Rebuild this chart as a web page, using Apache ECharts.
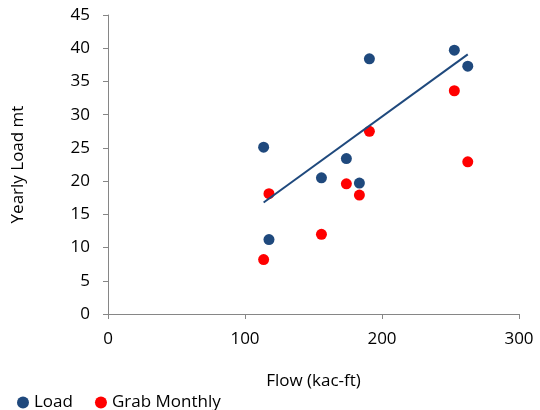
<!DOCTYPE html>
<html>
<head>
<meta charset="utf-8">
<script src="https://cdn.jsdelivr.net/npm/echarts@6/dist/echarts.min.js"></script>
<style>
  html, body { margin: 0; padding: 0; background: #fff; }
  #chart { width: 540px; height: 410px; }
</style>
</head>
<body>
<div id="chart"></div>
<script>
// flow (kac-ft) for each year
const flow = [113.6, 117.5, 155.8, 174.0, 183.5, 190.8, 252.8, 262.6]
// yearly load (mt)
const loadValues = [25.1, 11.2, 20.5, 23.4, 19.7, 38.4, 39.7, 37.3]
const grabMonthlyValues = [8.2, 18.1, 12.0, 19.6, 17.9, 27.5, 33.6, 22.9]

const xTicks = [0, 100, 200, 300]
const yTicks = [0, 5, 10, 15, 20, 25, 30, 35, 40, 45]

const blue = '#1F497D'
const red = '#FF0000'
const axisColor = '#868686'
const font = '"Open Sans", sans-serif'

// linear trend for Load
const trendLine = (xs, ys) => {
  const n = xs.length
  const mx = xs.reduce((a, b) => a + b, 0) / n
  const my = ys.reduce((a, b) => a + b, 0) / n
  let sxy = 0
  let sxx = 0
  xs.forEach((x, i) => {
    sxy += (x - mx) * (ys[i] - my)
    sxx += (x - mx) * (x - mx)
  })
  const slope = sxy / sxx
  const x0 = Math.min(...xs)
  const x1 = Math.max(...xs)
  return [
    [x0, my + slope * (x0 - mx)],
    [x1, my + slope * (x1 - mx)]
  ]
}

const pairs = (xs, ys) => xs.map((x, i) => [x, ys[i]])

const chart = echarts.init(document.getElementById('chart'))

chart.setOption({
  animation: false,
  textStyle: { fontFamily: font },
  grid: { left: 108, right: 21, top: 15, bottom: 96 },
  legend: {
    left: 12,
    top: 389,
    itemWidth: 12,
    itemHeight: 12,
    itemGap: 22,
    textStyle: { fontSize: 17, color: '#000', fontFamily: font },
    data: [
      { name: 'Load', icon: 'circle' },
      { name: 'Grab Monthly', icon: 'circle' }
    ]
  },
  xAxis: {
    type: 'value',
    min: xTicks[0],
    max: xTicks[xTicks.length - 1],
    interval: 100,
    name: 'Flow (kac-ft)',
    nameLocation: 'middle',
    nameGap: 59,
    nameTextStyle: { fontSize: 17, color: '#000', fontFamily: font },
    axisLine: { show: true, lineStyle: { color: axisColor, width: 1 } },
    axisTick: { show: true, length: 5, lineStyle: { color: axisColor } },
    axisLabel: { fontSize: 17, color: '#000', margin: 17, fontFamily: font },
    splitLine: { show: false }
  },
  yAxis: {
    type: 'value',
    min: yTicks[0],
    max: yTicks[yTicks.length - 1],
    interval: 5,
    name: 'Yearly Load mt',
    nameLocation: 'middle',
    nameGap: 81,
    nameTextStyle: { fontSize: 17, color: '#000', fontFamily: font },
    axisLine: { show: true, lineStyle: { color: axisColor, width: 1 } },
    axisTick: { show: true, length: 5, lineStyle: { color: axisColor } },
    axisLabel: { fontSize: 17, color: '#000', margin: 18, fontFamily: font },
    splitLine: { show: false }
  },
  series: [
    {
      name: 'Load',
      type: 'scatter',
      symbolSize: 11,
      itemStyle: { color: blue, opacity: 1 },
      data: pairs(flow, loadValues),
      z: 3
    },
    {
      name: 'Grab Monthly',
      type: 'scatter',
      symbolSize: 11,
      itemStyle: { color: red, opacity: 1 },
      data: pairs(flow, grabMonthlyValues),
      z: 3
    },
    {
      name: 'Load trend',
      type: 'line',
      showSymbol: false,
      symbol: 'none',
      lineStyle: { color: blue, width: 2 },
      data: trendLine(flow, loadValues),
      z: 4
    }
  ]
})
</script>
</body>
</html>
